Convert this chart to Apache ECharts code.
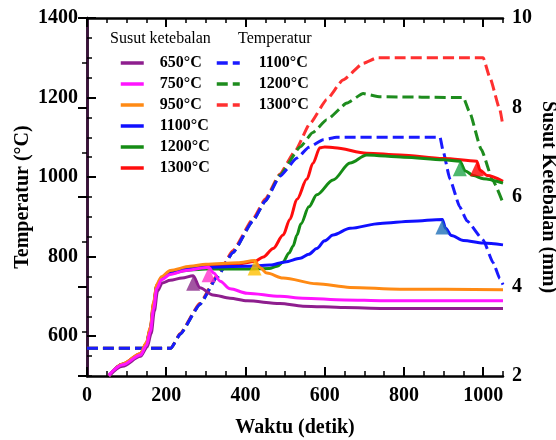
<!DOCTYPE html>
<html>
<head>
<meta charset="utf-8">
<script src="https://cdn.jsdelivr.net/npm/echarts@6/dist/echarts.min.js"></script>
<style>
  html, body { margin: 0; padding: 0; background: #fff; }
  #chart { width: 556px; height: 440px; }
</style>
</head>
<body>
<div id="chart"></div>
<script>
// ---- Axis tick labels ----
const timeLabels = [0, 200, 400, 600, 800, 1000];
const tempLabels = [600, 800, 1000, 1200, 1400];
const shrinkLabels = [2, 4, 6, 8, 10];

// ---- Furnace temperature (°C) vs time (s) ----
const t1100Time = [0, 212, 235, 285, 328, 368, 419, 450, 487, 530, 560, 596, 630, 891, 899, 916, 941, 959, 1000, 1025, 1042, 1050];
const t1100Temp = [570, 570, 605, 680, 748, 810, 890, 940, 1002, 1048, 1075, 1094, 1100, 1100, 1065, 995, 925, 890, 842, 785, 745, 730];

const t1200Time = [0, 212, 235, 285, 328, 368, 419, 450, 487, 538, 570, 605, 656, 697, 740, 950, 965, 995, 1025, 1050];
const t1200Temp = [570, 570, 605, 680, 748, 810, 890, 940, 1005, 1076, 1112, 1144, 1186, 1210, 1202, 1200, 1165, 1070, 990, 935];

const t1300Time = [0, 212, 235, 285, 328, 368, 419, 450, 487, 525, 563, 605, 646, 697, 732, 1000, 1017, 1042, 1050];
const t1300Temp = [570, 570, 607, 683, 752, 815, 895, 945, 1008, 1065, 1135, 1195, 1244, 1286, 1300, 1300, 1250, 1170, 1127];

// ---- Thickness shrinkage (mm) vs time (s) ----
const s650Time = [55, 90, 135, 152, 162, 170, 178, 190, 210, 240, 268, 285, 318, 361, 404, 487, 545, 650, 750, 1050];
const s650 = [2.0, 2.22, 2.44, 2.65, 2.95, 3.45, 3.9, 4.08, 4.14, 4.19, 4.24, 3.97, 3.81, 3.74, 3.68, 3.62, 3.56, 3.53, 3.51, 3.51];

const s750Time = [55, 90, 135, 150, 160, 168, 176, 188, 210, 250, 307, 320, 336, 361, 404, 487, 545, 650, 750, 1050];
const s750 = [2.02, 2.25, 2.47, 2.68, 3.0, 3.5, 3.95, 4.15, 4.27, 4.36, 4.43, 4.3, 4.12, 3.95, 3.85, 3.78, 3.74, 3.7, 3.68, 3.68];

const s950Time = [55, 90, 135, 150, 160, 168, 176, 188, 210, 260, 300, 380, 423, 437, 454, 495, 580, 664, 790, 1050];
const s950 = [2.0, 2.27, 2.5, 2.75, 3.1, 3.65, 4.05, 4.22, 4.36, 4.45, 4.5, 4.53, 4.58, 4.42, 4.3, 4.19, 4.06, 3.98, 3.94, 3.93];

const s1100Time = [55, 90, 135, 150, 160, 168, 176, 188, 210, 260, 300, 400, 462, 500, 538, 560, 580, 600, 621, 664, 740, 820, 897, 905, 920, 950, 1000, 1050];
const s1100 = [2.0, 2.26, 2.48, 2.72, 3.05, 3.58, 4.0, 4.18, 4.3, 4.4, 4.43, 4.45, 4.48, 4.55, 4.63, 4.72, 4.85, 5.02, 5.15, 5.3, 5.41, 5.46, 5.5, 5.3, 5.14, 5.03, 4.97, 4.93];

const s1200Time = [55, 90, 135, 150, 160, 168, 176, 188, 210, 260, 300, 400, 460, 480, 495, 510, 520, 530, 540, 560, 580, 621, 664, 706, 800, 900, 941, 955, 975, 1000, 1050];
const s1200 = [2.0, 2.26, 2.48, 2.72, 3.05, 3.58, 4.0, 4.18, 4.3, 4.37, 4.39, 4.39, 4.4, 4.45, 4.55, 4.75, 4.9, 5.15, 5.4, 5.78, 6.05, 6.38, 6.76, 6.94, 6.89, 6.83, 6.8, 6.58, 6.48, 6.41, 6.31];

const s1300Time = [55, 90, 135, 150, 160, 168, 176, 188, 210, 260, 300, 380, 423, 445, 470, 495, 512, 530, 555, 570, 588, 600, 625, 706, 790, 900, 984, 992, 1010, 1050];
const s1300 = [2.0, 2.27, 2.5, 2.74, 3.08, 3.62, 4.03, 4.2, 4.34, 4.43, 4.47, 4.5, 4.56, 4.66, 4.85, 5.15, 5.5, 5.95, 6.4, 6.75, 7.1, 7.12, 7.1, 6.98, 6.94, 6.86, 6.8, 6.6, 6.48, 6.35];

// ---- Onset points on the shrinkage curves (650, 750, 950, 1100, 1200, 1300 °C) ----
const markTime = [268, 307, 423, 897, 941, 984];
const markShrink = [4.24, 4.43, 4.58, 5.5, 6.8, 6.8];

// ---------------------------------------------------------------
const zip = (xs, ys) => xs.map((x, i) => [x, ys[i]]);

const SERIF = 'Liberation Serif';
const tickFont = { color: '#000', fontFamily: SERIF, fontWeight: 'bold', fontSize: 20, formatter: v => String(v) };
const nameFont = { color: '#000', fontFamily: SERIF, fontWeight: 'bold', fontSize: 20 };

const solidColors = {
  '650°C': '#8e1e8e', '750°C': '#ff14ff', '950°C': '#ff8a14',
  '1100°C': '#1010ff', '1200°C': '#158c15', '1300°C': '#ff0d0d'
};
const dashColors = { 'T 1100°C': '#1a1aff', 'T 1200°C': '#1e8c1e', 'T 1300°C': '#ff3030' };
const markColors = ['#8b2a8b', '#ff33cc', '#ffbf00', '#1f6fb8', '#22a64a', '#ff0000'];

function dashed(name, data) {
  return {
    name, type: 'line', xAxisIndex: 0, yAxisIndex: 0, data,
    symbol: 'none', smooth: 0.15, smoothMonotone: 'x',
    lineStyle: { color: dashColors[name], width: 3, type: [11, 5] },
    itemStyle: { color: dashColors[name] },
    z: 2
  };
}
function solid(name, data) {
  return {
    name, type: 'line', xAxisIndex: 0, yAxisIndex: 1, data,
    symbol: 'none', smooth: 0.3, smoothMonotone: 'x',
    lineStyle: { color: solidColors[name], width: 3 },
    itemStyle: { color: solidColors[name] },
    z: 3
  };
}

const series = [
  dashed('T 1300°C', zip(t1300Time, t1300Temp)),
  dashed('T 1200°C', zip(t1200Time, t1200Temp)),
  dashed('T 1100°C', zip(t1100Time, t1100Temp)),
  solid('1300°C', zip(s1300Time, s1300)),
  solid('1200°C', zip(s1200Time, s1200)),
  solid('1100°C', zip(s1100Time, s1100)),
  solid('950°C', zip(s950Time, s950)),
  solid('650°C', zip(s650Time, s650)),
  solid('750°C', zip(s750Time, s750)),
  {
    name: 'onset', type: 'scatter', xAxisIndex: 0, yAxisIndex: 1,
    symbol: 'triangle', symbolSize: [14, 15], symbolOffset: [0, 7.5],
    data: markTime.map((t, i) => ({ value: [t, markShrink[i]], itemStyle: { color: markColors[i] } })),
    z: 5
  }
];

const blackLine = { show: true, lineStyle: { color: '#000', width: 2.5 } };
const noLine = { show: false };
const hideLabel = { show: false };
const noSplit = { show: false };

const legendText = { color: '#000', fontFamily: SERIF, fontWeight: 'bold', fontSize: 16, lineHeight: 16 };

const chart = echarts.init(document.getElementById('chart'), null, { renderer: 'canvas' });
chart.setOption({
  animation: false,
  backgroundColor: '#fff',
  grid: { left: 87, right: 53, top: 18, bottom: 64, containLabel: false, outerBoundsMode: 'none' },
  xAxis: [
    { type: 'value', min: 0, max: 1050, interval: 200, position: 'bottom',
      axisLine: blackLine, splitLine: noSplit,
      axisTick: { inside: true, length: 9, lineStyle: { color: '#000', width: 2 }, customValues: timeLabels },
      axisLabel: Object.assign({ margin: 10, customValues: timeLabels }, tickFont),
      name: 'Waktu (detik)', nameLocation: 'middle', nameGap: 42, nameMoveOverlap: false, nameTextStyle: nameFont },
    { type: 'value', min: 0, max: 1050, interval: 50, position: 'bottom',
      axisLine: noLine, splitLine: noSplit, axisLabel: hideLabel,
      axisTick: { inside: true, length: 5, lineStyle: { color: '#000', width: 1.5 } } },
    { type: 'value', min: 0, max: 1050, interval: 50, position: 'top',
      axisLine: blackLine, splitLine: noSplit, axisLabel: hideLabel,
      axisTick: { inside: true, length: 5, lineStyle: { color: '#000', width: 1.5 } } },
    { type: 'value', min: 0, max: 1050, interval: 200, position: 'top',
      axisLine: noLine, splitLine: noSplit, axisLabel: hideLabel,
      axisTick: { inside: true, length: 9, lineStyle: { color: '#000', width: 2 }, customValues: timeLabels } }
  ],
  yAxis: [
    { type: 'value', min: 500, max: 1400, interval: 100, position: 'left',
      axisLine: blackLine, splitLine: noSplit,
      axisTick: { inside: true, length: 9, lineStyle: { color: '#000', width: 2 }, customValues: tempLabels },
      axisLabel: Object.assign({ margin: 9, customValues: tempLabels }, tickFont),
      name: 'Temperatur (°C)', nameLocation: 'middle', nameGap: 54, nameRotate: 90, nameMoveOverlap: false,
      nameTextStyle: nameFont },
    { type: 'value', min: 2, max: 10, interval: 2, position: 'right',
      axisLine: { show: true, lineStyle: { color: '#3a0f3a', width: 2.5 } }, splitLine: noSplit,
      axisTick: { inside: true, length: 9, lineStyle: { color: '#000', width: 2 }, customValues: shrinkLabels },
      axisLabel: Object.assign({ margin: 9, customValues: shrinkLabels }, tickFont),
      name: 'Susut Ketebalan (mm)', nameLocation: 'middle', nameGap: 35, nameRotate: -90, nameMoveOverlap: false,
      nameTextStyle: nameFont },
    { type: 'value', min: 500, max: 1400, interval: 50, position: 'left',
      axisLine: noLine, splitLine: noSplit, axisLabel: hideLabel,
      axisTick: { inside: true, length: 5, lineStyle: { color: '#000', width: 1.5 } } },
    { type: 'value', min: 2, max: 10, interval: 1, position: 'right',
      axisLine: noLine, splitLine: noSplit, axisLabel: hideLabel,
      axisTick: { inside: true, length: 5, lineStyle: { color: '#000', width: 1.5 } } }
  ],
  legend: [
    { data: ['650°C', '750°C', '950°C', '1100°C', '1200°C', '1300°C'],
      orient: 'vertical', left: 119, top: 55, padding: 0,
      itemWidth: 23, itemHeight: 12, itemGap: 5, selectedMode: false,
      itemStyle: { opacity: 0 },
      lineStyle: { width: 3.5 },
      textStyle: Object.assign({ padding: [0, 0, 0, 11] }, legendText) },
    { data: ['T 1100°C', 'T 1200°C', 'T 1300°C'],
      orient: 'vertical', left: 215, top: 55, padding: 0,
      itemWidth: 23, itemHeight: 12, itemGap: 5, selectedMode: false,
      itemStyle: { opacity: 0 },
      lineStyle: { width: 3.5 },
      formatter: name => name.replace('T ', ''),
      textStyle: Object.assign({ padding: [0, 0, 0, 14] }, legendText) }
  ],
  graphic: [
    { type: 'text', left: 110, top: 31,
      style: { text: 'Susut ketebalan', fill: '#000', font: '16px "Liberation Serif"' } },
    { type: 'text', left: 238, top: 31,
      style: { text: 'Temperatur', fill: '#000', font: '16px "Liberation Serif"' } }
  ],
  series
});
</script>
</body>
</html>
